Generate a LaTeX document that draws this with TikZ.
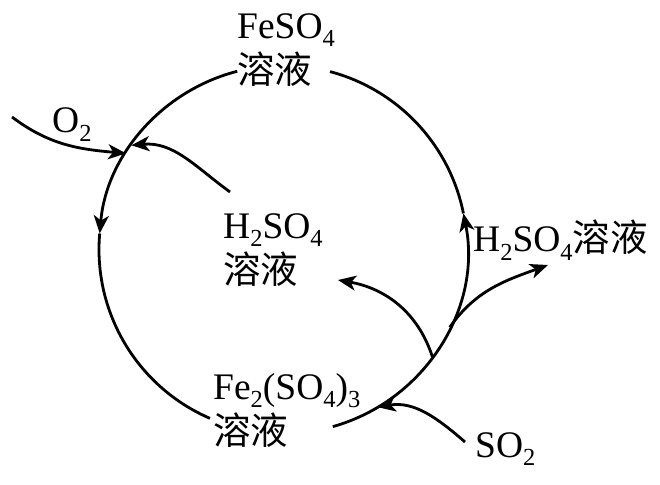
\documentclass[tikz,border=0pt]{standalone}
\usepackage{fontspec}
\setmainfont{Liberation Serif}
\newfontfamily\cjk{Noto Sans CJK SC}
\usetikzlibrary{arrows.meta,calc}
\newcommand\chemsub[1]{\raisebox{-0.22em}{\fontsize{24.5}{24.5}\selectfont #1}}
\begin{document}
\begin{tikzpicture}[x=1pt,y=1pt,
  line/.style={line width=2.8pt},
  arr/.style={line width=2.8pt,-{Stealth[length=18pt,width=15pt,inset=5pt]}},
  lbl/.style={inner sep=0pt,font=\fontsize{37.5}{45}\selectfont,align=left}]
\useasboundingbox (0,0) rectangle (660,484);
\coordinate (C) at (283,234.5);
\def\R{184pt}
% circle points
\coordinate (tl) at ($(C)+(104.4:\R)$);
\coordinate (la) at ($(C)+(175:\R)$);
\coordinate (bl) at ($(C)+(246.6:\R)$);
\coordinate (br) at ($(C)+(-74.3:\R)$);
\coordinate (ra) at ($(C)+(11.3:\R)$);
\coordinate (tr) at ($(C)+(75.2:\R)$);
\coordinate (bL) at ($(C)+(-35.7:\R)$);
\coordinate (bR) at ($(C)+(-25:\R)$);
\coordinate (o2tip) at ($(C)+(148.5:\R)$);
\coordinate (htip) at ($(C)+(145.5:\R)$);
\coordinate (so2tip) at ($(C)+(-59:\R)$);
% circle arcs
\draw[arr] (tl) arc[start angle=104.4,end angle=175,radius=\R];
\draw[line] (la) arc[start angle=175,end angle=246.6,radius=\R];
\draw[arr] (br) arc[start angle=-74.3,end angle=11.3,radius=\R];
\draw[line] (ra) arc[start angle=11.3,end angle=75.2,radius=\R];
% labels
\node[lbl,anchor=north west] (fe2) at (237,471) {FeSO\chemsub{4}\\{\cjk 溶液}};
\node[lbl,anchor=north west] (h2m) at (223,271) {H\chemsub{2}SO\chemsub{4}\\{\cjk 溶液}};
\node[lbl,anchor=base west] (h2r) at (473,232) {H\chemsub{2}SO\chemsub{4}{\cjk 溶液}};
\node[lbl,anchor=base west] (o2) at (52,351) {O\chemsub{2}};
\node[lbl,anchor=north west] (fe3) at (213,111) {Fe\chemsub{2}(SO\chemsub{4})\chemsub{3}\\{\cjk 溶液}};
\node[lbl,anchor=base west] (so2) at (475,27) {SO\chemsub{2}};
% side arrows
\coordinate (o2s) at (12,367);
\draw[arr] (o2s) to[out=-37,in=175] (o2tip);
\coordinate (hs) at (230,292);
\draw[arr] (hs) to[out=144,in=5] (htip);
\coordinate (so2s) at (465,42);
\draw[arr] (so2s) to[out=139,in=10] (so2tip);
\coordinate (lbt) at (338,204);
\draw[arr] (bL) to[out=108,in=-10] (lbt);
\coordinate (rbt) at (548,219);
\draw[arr] (bR) to[out=55,in=200] (rbt);
\end{tikzpicture}
\end{document}
